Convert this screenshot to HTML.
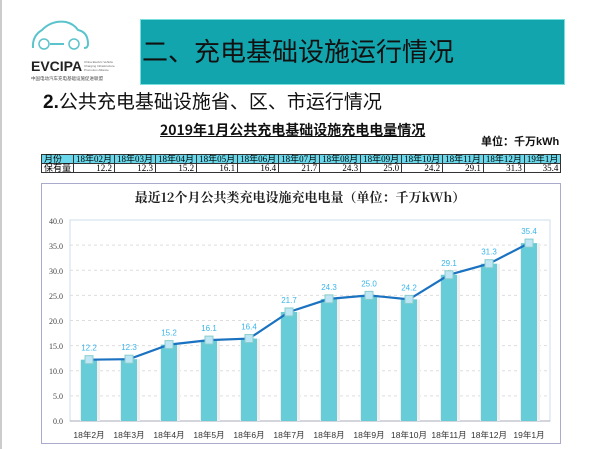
<!DOCTYPE html><html><head><meta charset="utf-8"><style>
body{margin:0;width:600px;height:449px;background:#fff;position:relative;overflow:hidden;font-family:"Liberation Sans","Noto Sans CJK SC",sans-serif}
.abs{position:absolute}
table{border-collapse:collapse;font-family:"Liberation Serif","Noto Sans CJK SC",serif;font-size:9px}
td{border:1px solid #333;height:8px;padding:0 2px;line-height:8px;white-space:nowrap}
</style></head><body>
<div class="abs" style="left:0;top:0;width:2px;height:449px;background:#ccc"></div>
<div class="abs" style="left:140px;top:19px;width:423px;height:64px;background:#13a5ad;border:1px solid #7dd"></div>
<div class="abs" style="left:142px;top:32px;font-size:26px;color:#111;font-family:'Noto Sans CJK SC',sans-serif">二、充电基础设施运行情况</div>
<svg class="abs" style="left:30px;top:18px" width="60" height="36" viewBox="0 0 60 36"><path d="M3 30 Q2 18 12 12 Q22 2 36 4 Q44 6 48 12 Q58 14 58 26 Q58 30 54 30" fill="none" stroke="#5bc3cc" stroke-width="2"/><circle cx="14" cy="26" r="5" fill="none" stroke="#5bc3cc" stroke-width="1.5"/><circle cx="44" cy="26" r="5" fill="none" stroke="#5bc3cc" stroke-width="1.5"/><path d="M20 26 H34" stroke="#5bc3cc" stroke-width="2"/></svg>
<div class="abs" style="left:31px;top:58px;font-size:14px;font-weight:bold;color:#222">EVCIPA</div>
<div class="abs" style="left:84px;top:60px;font-size:3px;color:#666;line-height:4px">China Electric Vehicle<br>Charging Infrastructure<br>Promotion Alliance</div>
<div class="abs" style="left:31px;top:76px;font-size:4.5px;color:#444">中国电动汽车充电基础设施促进联盟</div>
<div class="abs" style="left:43px;top:87px;font-size:19px;color:#111;font-family:'Noto Sans CJK SC',sans-serif"><b style="font-family:'Liberation Sans'">2.</b>公共充电基础设施省、区、市运行情况</div>
<div class="abs" style="left:160px;top:120px;font-size:14px;font-weight:bold;color:#111;text-decoration:underline;font-family:'Noto Sans CJK SC',sans-serif">2019年1月公共充电基础设施充电电量情况</div>
<div class="abs" style="left:481px;top:133px;font-size:11px;font-weight:bold;color:#111">单位：千万kWh</div>
<table class="abs" style="left:41px;top:154px;width:520px">
<tr style="background:#6ad8ea"><td style="width:31px">月份</td><td>18年02月</td><td>18年03月</td><td>18年04月</td><td>18年05月</td><td>18年06月</td><td>18年07月</td><td>18年08月</td><td>18年09月</td><td>18年10月</td><td>18年11月</td><td>18年12月</td><td>19年1月</td></tr>
<tr style="text-align:right"><td style="text-align:left">保有量</td><td>12.2</td><td>12.3</td><td>15.2</td><td>16.1</td><td>16.4</td><td>21.7</td><td>24.3</td><td>25.0</td><td>24.2</td><td>29.1</td><td>31.3</td><td>35.4</td></tr>
</table>
<div class="abs" style="left:41px;top:183px;width:518px;height:259px;border:1px solid #aac"></div>
<div class="abs" style="left:0;width:600px;top:187px;text-align:center;font-size:13px;font-weight:bold;color:#222;font-family:'Noto Serif CJK SC',serif">最近12个月公共类充电设施充电电量（单位：千万kWh）</div>
<svg class="abs" style="left:0;top:0" width="600" height="449">
<rect x="70" y="220" width="480" height="201" fill="none" stroke="#cde"/>
<g stroke="#ddd" stroke-dasharray="3,3">
<line x1="70" x2="550" y1="245.1" y2="245.1"/><line x1="70" x2="550" y1="270.3" y2="270.3"/><line x1="70" x2="550" y1="295.4" y2="295.4"/><line x1="70" x2="550" y1="320.5" y2="320.5"/><line x1="70" x2="550" y1="345.6" y2="345.6"/><line x1="70" x2="550" y1="370.8" y2="370.8"/><line x1="70" x2="550" y1="395.9" y2="395.9"/></g>
<line x1="70" x2="550" y1="421" y2="421" stroke="#aab"/>
<g font-family="Liberation Serif" font-size="8" fill="#444" text-anchor="end">
<text x="63" y="224">40.0</text><text x="63" y="249">35.0</text><text x="63" y="274">30.0</text><text x="63" y="299">25.0</text><text x="63" y="324">20.0</text><text x="63" y="349">15.0</text><text x="63" y="374">10.0</text><text x="63" y="399">5.0</text><text x="63" y="424">0.0</text></g>
<g id="bars"></g>
</svg>
<script>
var v=[12.2,12.3,15.2,16.1,16.4,21.7,24.3,25.0,24.2,29.1,31.3,35.4],l=["18年2月","18年3月","18年4月","18年5月","18年6月","18年7月","18年8月","18年9月","18年10月","18年11月","18年12月","19年1月"];
var s="",pts=[];
for(var i=0;i<12;i++){var cx=89+40*i,y=421-v[i]*5.025;pts.push(cx+","+y);
s+='<rect x="'+(cx-9)+'" y="'+y+'" width="20" height="'+(421-y)+'" fill="#eee"/><rect x="'+(cx-8)+'" y="'+y+'" width="16" height="'+(421-y)+'" fill="#66ccd8"/>';
s+='<text x="'+cx+'" y="438" font-size="8.5" fill="#333" text-anchor="middle" font-family="Liberation Sans,Noto Sans CJK SC,sans-serif">'+l[i]+'</text>';}
s+='<polyline points="'+pts.join(" ")+'" fill="none" stroke="#1a72c0" stroke-width="2.2"/>';
for(i=0;i<12;i++){var cx=89+40*i,y=421-v[i]*5.025;s+='<rect x="'+(cx-4)+'" y="'+(y-4)+'" width="8" height="8" fill="#bfe6f4" stroke="#8cc"/><text x="'+cx+'" y="'+(y-9)+'" font-size="8" fill="#39b4ec" text-anchor="middle" font-family="Liberation Sans">'+v[i].toFixed(1)+'</text>';}
document.getElementById("bars").innerHTML=s;
</script>
</body></html>
